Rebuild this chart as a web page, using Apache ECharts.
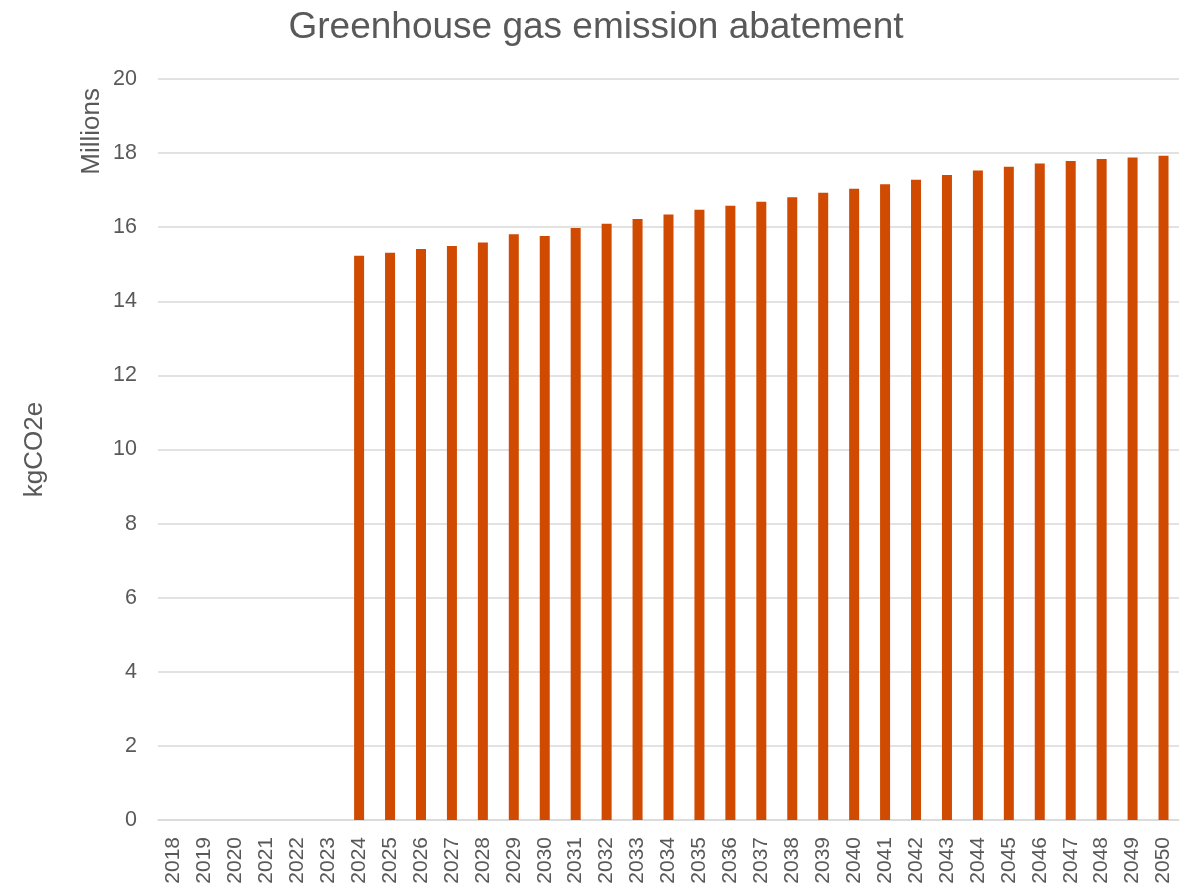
<!DOCTYPE html>
<html>
<head>
<meta charset="utf-8">
<title>Greenhouse gas emission abatement</title>
<script src="https://cdn.jsdelivr.net/npm/echarts@6/dist/echarts.min.js"></script>
<style>
  html, body { margin: 0; padding: 0; background: #ffffff; }
  #chart { width: 1192px; height: 890px; }
</style>
</head>
<body>
<div id="chart"></div>
<script>
// Years on the category axis
const years = [
  '2018','2019','2020','2021','2022','2023','2024','2025','2026','2027','2028',
  '2029','2030','2031','2032','2033','2034','2035','2036','2037','2038','2039',
  '2040','2041','2042','2043','2044','2045','2046','2047','2048','2049','2050'
];

// Abatement per year, millions of kgCO2e
const abatement = [
  0, 0, 0, 0, 0, 0,
  15.23, 15.31, 15.41, 15.49, 15.59, 15.81, 15.76, 15.98, 16.09, 16.22,
  16.34, 16.47, 16.58, 16.69, 16.81, 16.93, 17.04, 17.16, 17.28, 17.41,
  17.53, 17.63, 17.72, 17.79, 17.84, 17.88, 17.93
];

const textColor = '#595959';
const gridColor = '#d9d9d9';
const font = 'Arial, "Liberation Sans", sans-serif';

const chart = echarts.init(document.getElementById('chart'), null, { renderer: 'canvas' });

chart.setOption({
  backgroundColor: '#ffffff',
  animation: false,
  title: {
    text: 'Greenhouse gas emission abatement',
    left: 'center',
    top: 4,
    textStyle: { color: textColor, fontFamily: font, fontSize: 37, fontWeight: 'normal' }
  },
  grid: { left: 158, right: 13, top: 79, bottom: 70, containLabel: false },
  xAxis: {
    type: 'category',
    data: years,
    axisLine: { show: true, lineStyle: { color: gridColor, width: 1.5 } },
    axisTick: { show: false },
    axisLabel: {
      rotate: 90,
      interval: 0,
      margin: 17,
      color: textColor,
      fontFamily: font,
      fontSize: 21
    }
  },
  yAxis: {
    type: 'value',
    min: 0,
    max: 20,
    interval: 2,
    name: 'kgCO2e',
    nameLocation: 'middle',
    nameGap: 110,
    nameTextStyle: { color: textColor, fontFamily: font, fontSize: 26 },
    axisLine: { show: false },
    axisTick: { show: false },
    axisLabel: { margin: 21, color: textColor, fontFamily: font, fontSize: 21.5 },
    splitLine: { show: true, lineStyle: { color: gridColor, width: 1.5 } }
  },
  graphic: [{
    type: 'text',
    left: 79,
    top: 88,
    rotation: Math.PI / 2,
    style: {
      text: 'Millions',
      fill: textColor,
      font: '26px ' + font
    }
  }],
  series: [{
    type: 'bar',
    data: abatement,
    barWidth: 10,
    itemStyle: { color: '#d04a02' }
  }]
});
</script>
</body>
</html>
